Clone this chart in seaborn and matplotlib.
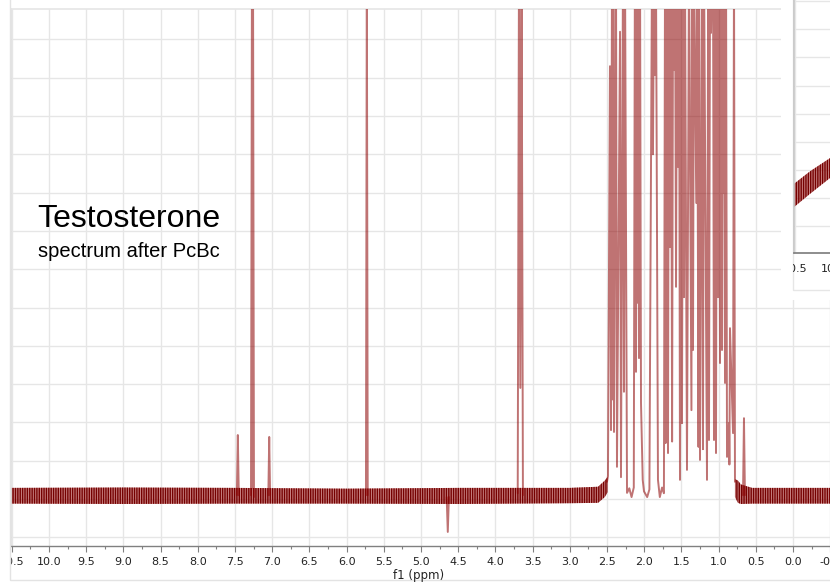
import numpy as np
import pandas as pd
import matplotlib
matplotlib.use("Agg")
import matplotlib.pyplot as plt
import seaborn as sns
from matplotlib.patches import Rectangle
from matplotlib.ticker import MultipleLocator, FixedLocator, FixedFormatter

# ---------------- data ----------------
major_ticks = [10.5, 10.0, 9.5, 9.0, 8.5, 8.0, 7.5, 7.0, 6.5, 6.0, 5.5, 5.0,
               4.5, 4.0, 3.5, 3.0, 2.5, 2.0, 1.5, 1.0, 0.5, 0.0, -0.5, -1.0]
major_labels = ["10.5", "10.0", "9.5", "9.0", "8.5", "8.0", "7.5", "7.0", "6.5",
                "6.0", "5.5", "5.0", "4.5", "4.0", "3.5", "3.0", "2.5", "2.0",
                "1.5", "1.0", "0.5", "0.0", "-0.5", "-1.0"]

# noise band of the baseline, left of the aliphatic cluster
band_left_ppm = [10.55, 9.0, 7.5, 6.0, 4.5, 3.0, 2.62, 2.53, 2.49]
band_left_upper = [0.29, 0.30, 0.29, 0.27, 0.29, 0.29, 0.32, 0.48, 0.58]
band_left_lower = [-0.12, -0.13, -0.12, -0.12, -0.13, -0.11, -0.10, 0.05, 0.18]
# noise band right of the cluster
band_right_ppm = [0.78, 0.74, 0.70, 0.55, -0.5, -1.1]
band_right_upper = [0.52, 0.48, 0.38, 0.29, 0.29, 0.29]
band_right_lower = [0.05, -0.10, -0.13, -0.12, -0.12, -0.12]

# aliphatic multiplet cluster, turning points (ppm, intensity)
cluster_ppm = [2.500, 2.487, 2.460, 2.446, 2.433, 2.426, 2.415, 2.406,
               2.379, 2.366, 2.325, 2.312, 2.285, 2.272, 2.258, 2.231, 2.200,
               2.170, 2.140, 2.125, 2.110, 2.097, 2.083, 2.076, 2.070, 2.056,
               2.043, 2.020, 2.003, 1.960, 1.930, 1.895, 1.882, 1.868, 1.855,
               1.842, 1.815, 1.790, 1.760, 1.735, 1.720, 1.712, 1.700, 1.694,
               1.687, 1.680, 1.667, 1.653, 1.640, 1.625, 1.612, 1.599, 1.586,
               1.572, 1.559, 1.545, 1.532, 1.519, 1.505, 1.492, 1.478, 1.465,
               1.452, 1.425, 1.398, 1.365, 1.358, 1.344, 1.331, 1.300, 1.290,
               1.270, 1.263, 1.250, 1.223, 1.210, 1.196, 1.156, 1.140, 1.129,
               1.115, 1.102, 1.089, 1.075, 1.062, 1.055, 1.048, 1.042, 1.035,
               1.022, 1.008, 0.995, 0.981, 0.968, 0.954, 0.947, 0.941, 0.930,
               0.914, 0.900, 0.887, 0.860, 0.855, 0.847, 0.806, 0.793, 0.780]
cluster_int = [0.45, 0.60, 11.3, 1.80, 14, 2.6, 14, 1.75,
               14, 0.84, 12.2, 0.57, 14, 2.8, 14, 0.16, 0.28,
               0.05, 0.30, 14, 3.32, 14, 5.12, 14, 3.68, 14,
               2.51, 0.50, 0.20, 0.05, 0.25, 14, 9.0, 14, 11.07,
               14, 0.50, 0.05, 0.30, 0.15, 14, 1.46, 14, 4.6,
               14, 1.20, 14, 6.58, 14, 1.50, 14, 11.2, 14,
               5.54, 14, 8.67, 14, 0.50, 14, 1.98, 14, 5.27,
               14, 0.76, 14, 2.32, 14, 3.89, 14, 7.73, 14,
               1.36, 14, 1.02, 14, 1.30, 14, 0.50, 14, 1.54,
               14, 12.17, 14, 14, 1.54, 14, 9.03, 14, 1.20,
               14, 5.27, 14, 3.55, 14, 3.89, 14, 8.0, 14,
               3.03, 14, 1.10, 1.98, 0.90, 4.46, 1.72, 14, 0.45]

# isolated signals
peak746_ppm = [7.475, 7.462, 7.449]
peak746_int = [0.10, 1.67, 0.10]
chcl3_ppm = [7.285, 7.272, 7.265, 7.258, 7.245]
chcl3_int = [0.10, 14, 0.30, 14, 0.05]
peak704_ppm = [7.052, 7.040, 7.028]
peak704_int = [0.10, 1.62, 0.10]
peak573_ppm = [5.740, 5.728, 5.716]
peak573_int = [0.10, 14, 0.10]
dip464_ppm = [4.655, 4.640, 4.625]
dip464_int = [0.05, -0.86, 0.05]
peak365_ppm = [3.700, 3.683, 3.665, 3.648, 3.630]
peak365_int = [0.15, 14, 2.9, 14, 0.10]
peak066_ppm = [0.672, 0.659, 0.646]
peak066_int = [0.10, 2.11, 0.10]

# inset (zoomed baseline), band envelope
inset_ppm = [10.56, 10.30, 10.02]
inset_lower = [0.57, 1.15, 1.75]
inset_upper = [1.40, 1.95, 2.45]

# ---------------- style ----------------
sns.set_theme(style="white")
plt.rcParams["font.family"] = ["DejaVu Sans"]
plt.rcParams["hatch.linewidth"] = 1.0

W, H = 830, 583
fig = plt.figure(figsize=(W / 100, H / 100), dpi=100)
fig.patch.set_facecolor("white")


def fx(px):
    return px / W


def fy(py):
    return 1 - py / H


RED = "#8b0000"
GRID = "#e6e6e6"
BAND_FACE = (0.62, 0.12, 0.12, 0.55)
BAND_HATCH = "#750000"

# main axes: ppm axis reversed; 74.4 px per ppm
ax_left, ax_right, ax_top, ax_bottom = 11, 874, 9, 545.5
ax = fig.add_axes([fx(ax_left), fy(ax_bottom), fx(ax_right - ax_left),
                   (ax_bottom - ax_top) / H])
px_per_ppm = 74.4
x_left = 10.0 + (49 - ax_left) / px_per_ppm
x_right = x_left - (ax_right - ax_left) / px_per_ppm
ax.set_xlim(x_left, x_right)
# 38.3 px per intensity unit, gridline unit 0 at y=499 px
unit = 38.3
ax.set_ylim(-(ax_bottom - 499) / unit, (499 - ax_top) / unit)

for bx, blo, bhi in [(band_left_ppm, band_left_lower, band_left_upper),
                     (band_right_ppm, band_right_lower, band_right_upper)]:
    ax.fill_between(bx, blo, bhi, facecolor=BAND_FACE, edgecolor=BAND_HATCH,
                    hatch="|" * 7, linewidth=0, zorder=2)

segments = [(cluster_ppm, cluster_int), (peak746_ppm, peak746_int),
            (chcl3_ppm, chcl3_int), (peak704_ppm, peak704_int),
            (peak573_ppm, peak573_int), (dip464_ppm, dip464_int),
            (peak365_ppm, peak365_int), (peak066_ppm, peak066_int)]
for xs, ys in segments:
    df = pd.DataFrame({"ppm": xs, "intensity": ys})
    sns.lineplot(data=df, x="ppm", y="intensity", sort=False, estimator=None,
                 color=RED, alpha=0.55, lw=1.4, ax=ax, zorder=3)

ax.set_xlabel("")
ax.set_ylabel("")
ax.xaxis.set_major_locator(FixedLocator(major_ticks))
ax.xaxis.set_major_formatter(FixedFormatter(major_labels))
ax.xaxis.set_minor_locator(MultipleLocator(0.25))
ax.yaxis.set_major_locator(MultipleLocator(1))
ax.set_yticklabels([])
ax.tick_params(axis="y", length=0)
ax.tick_params(axis="x", which="major", direction="out", length=4, width=0.8,
               color="#808080", labelsize=8, labelcolor="#222222", pad=4)
ax.tick_params(axis="x", which="minor", direction="out", length=2, width=0.8,
               color="#808080")
ax.xaxis.set_ticks_position("bottom")
ax.grid(True, which="major", color=GRID, lw=1)
ax.set_axisbelow(True)
ax.spines["right"].set_visible(False)
ax.spines["top"].set_color(GRID)
ax.spines["left"].set_color("#e0e0e0")
ax.spines["bottom"].set_color("#808080")
ax.spines["bottom"].set_linewidth(1)

fig.text(fx(419), fy(575), "f1 (ppm)", ha="center", va="center", fontsize=8.5,
         color="#222222")

fig.text(fx(37), fy(227), "Testosterone", fontsize=23, color="black",
         family=["Liberation Sans"], ha="left", va="baseline")
fig.text(fx(38), fy(257), "spectrum after PcBc", fontsize=14.5, color="black",
         family=["Liberation Sans"], ha="left", va="baseline")

# outer frame of the screenshot
fig.add_artist(Rectangle((fx(10), fy(580)), fx(900), 1, transform=fig.transFigure,
                         fill=False, edgecolor="#e3e3e3", lw=1, zorder=1))

# inset panel (top right)
fig.add_artist(Rectangle((fx(781), fy(300)), fx(60), 300 / H,
                         transform=fig.transFigure, facecolor="white",
                         edgecolor="none", zorder=5))
fig.add_artist(Rectangle((fx(793), fy(290)), fx(60), 300 / H,
                         transform=fig.transFigure, fill=False,
                         edgecolor="#e6e6e6", lw=1, zorder=6))
in_left, in_right, in_bottom = 794, 880, 253
axi = fig.add_axes([fx(in_left), fy(in_bottom), fx(in_right - in_left),
                    in_bottom / H], zorder=7)
in_px_per_ppm = 76.0
xi_left = 10.5 + (795 - in_left) / in_px_per_ppm
axi.set_xlim(xi_left, xi_left - (in_right - in_left) / in_px_per_ppm)
in_unit = 28.1
axi.set_ylim(-(in_bottom - 226) / in_unit, 226 / in_unit)
axi.fill_between(inset_ppm, inset_lower, inset_upper, facecolor=BAND_FACE,
                 edgecolor=BAND_HATCH, hatch="|" * 7, linewidth=0, zorder=2)
axi.xaxis.set_major_locator(FixedLocator([10.5, 10.0, 9.5]))
axi.xaxis.set_major_formatter(FixedFormatter(["10.5", "10.0", "9.5"]))
axi.xaxis.set_minor_locator(MultipleLocator(0.25))
axi.yaxis.set_major_locator(MultipleLocator(1))
axi.set_yticklabels([])
axi.tick_params(axis="y", length=0)
axi.tick_params(axis="x", which="major", direction="out", length=4, width=0.8,
                color="#808080", labelsize=8, labelcolor="#222222", pad=4)
axi.tick_params(axis="x", which="minor", direction="out", length=2, width=0.8,
                color="#808080")
axi.grid(True, which="major", color=GRID, lw=1)
axi.set_axisbelow(True)
axi.spines["top"].set_visible(False)
axi.spines["right"].set_visible(False)
axi.spines["left"].set_color("#c8c8c8")
axi.spines["bottom"].set_color("#808080")

fig.canvas.draw()
clip_main = Rectangle((fx(10), 0), 1, 1, transform=fig.transFigure)
for t in ax.xaxis.get_major_ticks():
    t.label1.set_clip_path(clip_main)
clip_in = Rectangle((fx(793), 0), 1, 1, transform=fig.transFigure)
for t in axi.xaxis.get_major_ticks():
    t.label1.set_clip_path(clip_in)

fig.savefig("out.png", dpi=100)
